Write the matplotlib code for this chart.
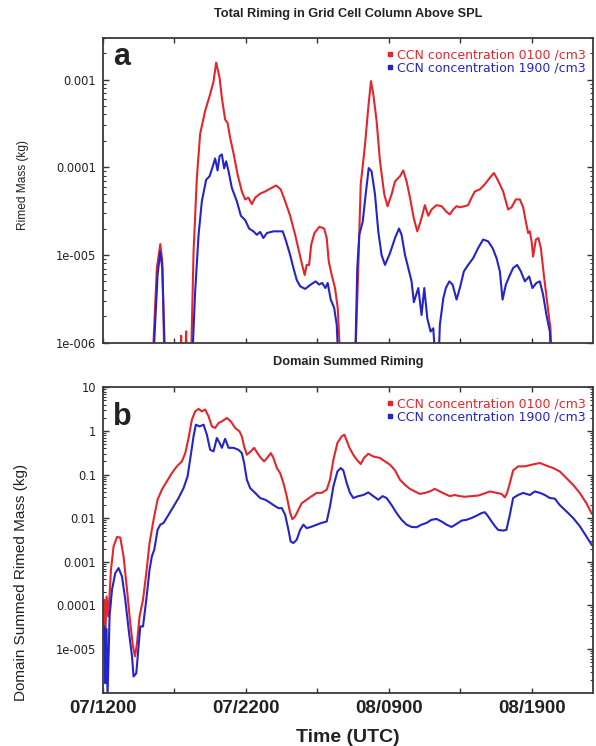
import matplotlib
matplotlib.use("Agg")
from matplotlib import pyplot as plt
from matplotlib.lines import Line2D
from matplotlib.ticker import LogLocator, NullFormatter

# colours of the two runs
RED = '#e3262b'
BLUE = '#2424c8'
FLOOR = 5e-7   # below the axis: curve leaves the panel

# ---- panel a: riming in the grid cell column above SPL (hours after 07/1200, kg)
a_red_t = [3.45, 3.77, 4.01, 4.15, 4.31,
           5.40, 5.47, 5.52, 5.75, 5.82, 5.87,
           6.15, 6.34, 6.57, 6.80, 7.15, 7.50, 7.74, 7.92, 8.16, 8.32,
           8.55, 8.72, 8.90, 9.13, 9.42, 9.72, 9.95, 10.18, 10.42, 10.65,
           11.00, 11.35, 11.70, 12.12, 12.44, 12.75, 13.10, 13.45, 13.75, 13.94,
           14.12, 14.26, 14.43, 14.57, 14.80, 15.15, 15.48, 15.66, 15.80, 16.01,
           16.24, 16.43, 16.64,
           17.64, 17.87, 18.04, 18.34, 18.57, 18.76, 18.92, 19.15, 19.39, 19.69,
           19.92, 20.20, 20.44, 20.79, 21.02, 21.25, 21.49, 21.76, 22.00, 22.23,
           22.53, 22.77, 23.00, 23.35, 23.70, 24.05, 24.28, 24.51, 24.75, 24.98,
           25.33, 25.56, 25.80, 26.03, 26.38, 26.73, 27.08, 27.36, 27.55, 27.78,
           28.01, 28.20, 28.36, 28.60, 28.90, 29.18, 29.41, 29.60, 29.76, 29.88,
           30.00, 30.11, 30.30, 30.48, 30.65, 30.86, 31.09, 31.32, 31.44]
a_red_v = [FLOOR, 7.1e-6, 1.33e-5, 8.5e-6, FLOOR,
           FLOOR, 1.2e-6, FLOOR, FLOOR, 1.35e-6, FLOOR,
           FLOOR, 1.1e-5, 7.6e-5, 2.4e-4, 4.4e-4, 6.8e-4, 9.6e-4, 1.56e-3, 1.05e-3, 6.2e-4,
           3.5e-4, 3.2e-4, 2.17e-4, 1.46e-4, 8.3e-5, 5.3e-5, 4.3e-5, 4.5e-5, 3.8e-5, 4.5e-5,
           5.0e-5, 5.3e-5, 5.7e-5, 6.2e-5, 5.6e-5, 4.1e-5, 2.8e-5, 1.7e-5, 1.05e-5, 7.7e-6,
           5.9e-6, 7.7e-6, 7.7e-6, 1.3e-5, 1.78e-5, 2.1e-5, 2.0e-5, 1.56e-5, 8.5e-6, 5.9e-6,
           4.2e-6, 2.5e-6, FLOOR,
           FLOOR, 7.1e-6, 6.4e-5, 1.8e-4, 4.8e-4, 9.6e-4, 6.8e-4, 3.4e-4, 1.17e-4, 4.9e-5,
           3.6e-5, 4.9e-5, 6.9e-5, 7.9e-5, 9.2e-5, 6.9e-5, 4.5e-5, 2.6e-5, 1.86e-5, 2.4e-5,
           3.7e-5, 2.8e-5, 3.3e-5, 3.7e-5, 3.6e-5, 3.1e-5, 2.9e-5, 3.3e-5, 3.6e-5, 3.5e-5,
           3.6e-5, 3.7e-5, 4.5e-5, 5.3e-5, 5.6e-5, 6.4e-5, 7.6e-5, 8.6e-5, 7.6e-5, 6.4e-5,
           5.3e-5, 4.1e-5, 3.3e-5, 3.5e-5, 4.3e-5, 4.3e-5, 3.5e-5, 2.4e-5, 1.78e-5, 1.86e-5,
           1.43e-5, 9.6e-6, 1.5e-5, 1.56e-5, 1.2e-5, 5.9e-6, 2.9e-6, 1.46e-6, FLOOR]

a_blue_t = [3.49, 3.82, 4.01, 4.15, 4.36,
            6.22, 6.45, 6.69, 6.92, 7.22, 7.46, 7.69, 7.85, 8.02, 8.16,
            8.32, 8.48, 8.62, 8.79, 9.02, 9.37, 9.65, 9.95, 10.23, 10.53,
            10.77, 11.00, 11.23, 11.47, 11.93, 12.58, 12.82, 13.10, 13.33, 13.56,
            13.80, 14.15, 14.54, 14.89, 15.13, 15.34, 15.57, 15.73, 15.94, 16.18,
            16.36, 16.50,
            17.64, 17.80, 17.94, 18.18, 18.41, 18.60, 18.80, 19.04, 19.27, 19.50,
            19.74, 20.09, 20.44, 20.72, 20.90, 21.14, 21.37, 21.60, 21.76, 22.07,
            22.30, 22.49, 22.70, 22.93, 23.12, 23.30, 23.47, 23.58, 23.82, 24.00,
            24.24, 24.47, 24.75, 24.98, 25.26, 25.56, 25.91, 26.26, 26.61, 26.96,
            27.27, 27.55, 27.78, 27.97, 28.20, 28.48, 28.71, 28.99, 29.25, 29.53,
            29.83, 30.06, 30.34, 30.58, 30.81, 31.04, 31.28, 31.39]
a_blue_v = [FLOOR, 5.9e-6, 1.1e-5, 7.1e-6, FLOOR,
            FLOOR, 3.8e-6, 1.7e-5, 4.1e-5, 7.2e-5, 7.9e-5, 1.03e-4, 1.26e-4, 9.2e-5, 1.34e-4,
            1.4e-4, 9.7e-5, 1.17e-4, 9.0e-5, 5.8e-5, 4.1e-5, 2.8e-5, 2.5e-5, 2.0e-5, 1.86e-5,
            1.7e-5, 1.83e-5, 1.56e-5, 1.78e-5, 1.86e-5, 1.86e-5, 1.43e-5, 1.0e-5, 7.1e-6, 5.2e-6,
            4.4e-6, 4.1e-6, 4.6e-6, 5.0e-6, 4.6e-6, 4.8e-6, 4.2e-6, 4.8e-6, 3.1e-6, 2.5e-6,
            1.6e-6, FLOOR,
            FLOOR, 7.1e-6, 1.7e-5, 2.4e-5, 5.3e-5, 9.8e-5, 9.0e-5, 4.9e-5, 1.86e-5, 1.0e-5,
            7.7e-6, 1.05e-5, 1.56e-5, 2.0e-5, 1.7e-5, 1.0e-5, 7.1e-6, 5.0e-6, 2.9e-6, 4.2e-6,
            2.07e-6, 4.2e-6, 1.9e-6, 1.34e-6, 1.46e-6, FLOOR, FLOOR, 1.6e-6, 3.2e-6, 4.2e-6,
            5.0e-6, 4.6e-6, 3.1e-6, 4.2e-6, 6.5e-6, 7.7e-6, 9.2e-6, 1.2e-5, 1.5e-5, 1.43e-5,
            1.2e-5, 9.2e-6, 6.5e-6, 3.1e-6, 4.6e-6, 5.9e-6, 7.1e-6, 7.7e-6, 6.5e-6, 5.0e-6,
            5.7e-6, 4.2e-6, 4.8e-6, 5.0e-6, 3.5e-6, 2.07e-6, 1.34e-6, FLOOR]

# ---- panel b: domain summed riming (kg)
b_red_t = [0.00, 0.09, 0.16, 0.25, 0.37, 0.56, 0.74, 0.98, 1.21, 1.44,
           1.68, 1.91, 2.10, 2.24, 2.38, 2.56, 2.80, 3.03, 3.26, 3.54,
           3.82, 4.12, 4.47, 4.82, 5.17, 5.52, 5.76, 5.99, 6.22, 6.45,
           6.69, 6.92, 7.15, 7.39, 7.62, 7.85, 8.09, 8.32, 8.67, 8.95,
           9.25, 9.55, 9.72, 9.88, 10.07, 10.35, 10.58, 10.81, 11.05, 11.28,
           11.58, 11.75, 11.93, 12.17, 12.40, 12.63, 12.86, 13.10, 13.26, 13.45,
           13.68, 13.91, 14.26, 14.61, 14.96, 15.31, 15.66, 15.89, 16.13, 16.41,
           16.71, 16.90, 17.24, 17.52, 17.76, 18.04, 18.27, 18.57, 18.92, 19.39,
           19.74, 20.09, 20.44, 20.79, 21.14, 21.48, 21.83, 22.18, 22.53, 22.88,
           23.23, 23.58, 23.93, 24.28, 24.63, 24.98, 25.33, 25.80, 26.26, 26.61,
           27.08, 27.55, 27.90, 28.13, 28.29, 28.48, 28.71, 29.06, 29.53, 30.00,
           30.58, 31.04, 31.51, 31.97, 32.44, 32.91, 33.37, 33.84, 34.19, 34.30]
b_red_v = [3.9e-5, 1.35e-4, 1.9e-5, 1.6e-4, 5.6e-5, 6.6e-4, 2.25e-3, 3.7e-3, 3.6e-3, 1.33e-3,
           2.3e-4, 3.9e-5, 1.15e-5, 6.8e-6, 1.37e-5, 5.6e-5, 1.35e-4, 5.5e-4, 2.7e-3, 9.2e-3,
           0.0265, 0.045, 0.07, 0.108, 0.154, 0.2, 0.31, 0.69, 1.8, 2.8,
           3.2, 2.8, 3.1, 2.16, 1.27, 1.17, 1.52, 1.65, 1.98, 1.65,
           1.17, 0.98, 0.75, 0.44, 0.285, 0.34, 0.41, 0.31, 0.24, 0.2,
           0.26, 0.31, 0.24, 0.141, 0.108, 0.064, 0.032, 0.0131, 0.0095, 0.011,
           0.0156, 0.022, 0.0265, 0.032, 0.038, 0.038, 0.045, 0.076, 0.22, 0.53,
           0.75, 0.82, 0.42, 0.285, 0.22, 0.174, 0.24, 0.3, 0.26, 0.24,
           0.2, 0.168, 0.125, 0.076, 0.058, 0.047, 0.041, 0.036, 0.038, 0.041,
           0.047, 0.041, 0.036, 0.032, 0.034, 0.032, 0.031, 0.032, 0.033, 0.036,
           0.041, 0.038, 0.036, 0.030, 0.038, 0.064, 0.125, 0.154, 0.154, 0.168,
           0.184, 0.16, 0.141, 0.118, 0.083, 0.058, 0.038, 0.022, 0.0131, 0.012]

b_blue_t = [0.00, 0.09, 0.16, 0.23, 0.32, 0.46, 0.63, 0.86, 1.09, 1.33,
            1.56, 1.79, 2.03, 2.14, 2.33, 2.49, 2.61, 2.80, 3.03, 3.26,
            3.42, 3.59, 3.82, 4.01, 4.24, 4.59, 4.94, 5.29, 5.64, 5.92,
            6.15, 6.34, 6.50, 6.76, 7.04, 7.27, 7.50, 7.74, 7.97, 8.16,
            8.32, 8.55, 8.79, 9.13, 9.48, 9.72, 9.88, 10.07, 10.30, 10.65,
            11.00, 11.35, 11.58, 11.93, 12.28, 12.52, 12.75, 12.98, 13.14, 13.33,
            13.56, 13.80, 14.03, 14.26, 14.61, 14.96, 15.31, 15.66, 15.89, 16.13,
            16.41, 16.64, 16.82, 17.06, 17.29, 17.52, 17.87, 18.22, 18.57, 18.92,
            19.27, 19.57, 19.85, 20.20, 20.55, 20.90, 21.25, 21.60, 21.95, 22.30,
            22.65, 23.00, 23.35, 23.70, 24.05, 24.40, 24.75, 25.10, 25.45, 25.80,
            26.15, 26.50, 26.73, 26.96, 27.20, 27.43, 27.66, 28.01, 28.24, 28.48,
            28.71, 29.06, 29.41, 29.88, 30.23, 30.58, 30.93, 31.28, 31.63, 31.97,
            32.44, 32.91, 33.37, 33.84, 34.19, 34.30]
b_blue_v = [1.9e-5, 3.3e-5, 1.65e-6, 2.9e-5, 9e-7, 5.6e-5, 2.3e-4, 5.5e-4, 7.2e-4, 4.6e-4,
            1.35e-4, 2.9e-5, 6.8e-6, 2.35e-6, 2.8e-6, 1.15e-5, 3.3e-5, 3.3e-5, 1.35e-4, 6.6e-4,
            1.33e-3, 1.9e-3, 5.4e-3, 7.1e-3, 7.8e-3, 0.012, 0.0186, 0.029, 0.049, 0.091,
            0.285, 0.76, 1.39, 1.27, 1.39, 0.82, 0.37, 0.34, 0.69, 0.53,
            0.41, 0.66, 0.41, 0.41, 0.37, 0.31, 0.184, 0.076, 0.049, 0.038,
            0.029, 0.0265, 0.024, 0.02, 0.017, 0.017, 0.012, 5.4e-3, 2.9e-3, 2.7e-3,
            3.2e-3, 5.4e-3, 7.1e-3, 5.9e-3, 6.4e-3, 7.1e-3, 7.8e-3, 8.4e-3, 0.0186, 0.054,
            0.118, 0.141, 0.125, 0.064, 0.038, 0.029, 0.032, 0.034, 0.039, 0.032,
            0.0265, 0.032, 0.029, 0.02, 0.0131, 9.2e-3, 7.1e-3, 6.3e-3, 6.2e-3, 7.1e-3,
            7.8e-3, 9.2e-3, 9.6e-3, 8.4e-3, 7.1e-3, 6.3e-3, 7.4e-3, 8.8e-3, 9.2e-3, 0.0101,
            0.0114, 0.0131, 0.0137, 0.011, 8.4e-3, 6.6e-3, 5.4e-3, 5.2e-3, 5.4e-3, 0.012,
            0.029, 0.034, 0.038, 0.034, 0.041, 0.038, 0.034, 0.029, 0.028, 0.02,
            0.0143, 0.0101, 6.6e-3, 3.8e-3, 2.5e-3, 2.3e-3]

x_ticks = [0, 5, 10, 15, 20, 25, 30]
x_labels = ['07/1200', '', '07/2200', '', '08/0900', '', '08/1900']
a_yticks = [1e-6, 1e-5, 1e-4, 1e-3]
a_ylabels = ['1e-006', '1e-005', '0.0001', '0.001']
b_yticks = [1e-5, 1e-4, 1e-3, 1e-2, 1e-1, 1, 10]
b_ylabels = ['1e-005', '0.0001', '0.001', '0.01', '0.1', '1', '10']
labels = ['CCN concentration 0100 /cm3', 'CCN concentration 1900 /cm3']

W, H = 596, 746
fig = plt.figure(figsize=(W / 100, H / 100), dpi=100)

def px_box(left, top, right, bottom):
    return [left / W, 1 - bottom / H, (right - left) / W, (bottom - top) / H]

ax_a = fig.add_axes(px_box(103, 37.7, 593, 342.7))
ax_b = fig.add_axes(px_box(103, 387.3, 593, 692.7))

ax_a.plot(a_red_t, a_red_v, color=RED, lw=1.5)
ax_a.plot(a_blue_t, a_blue_v, color=BLUE, lw=1.5)
ax_b.plot(b_red_t, b_red_v, color=RED, lw=1.5)
ax_b.plot(b_blue_t, b_blue_v, color=BLUE, lw=1.5)

for ax in (ax_a, ax_b):
    ax.set_yscale('log')
    ax.set_xlim(0, 34.3)
    ax.set_xticks(x_ticks)
    ax.yaxis.set_minor_locator(LogLocator(base=10, subs=range(2, 10), numticks=20))
    ax.yaxis.set_minor_formatter(NullFormatter())
    ax.tick_params(which='both', direction='in', top=True, right=True,
                   color='#333333')
    ax.tick_params(axis='y', which='major', length=4, width=1, pad=5)
    ax.tick_params(axis='y', which='minor', length=2.2, width=0.8)
    ax.tick_params(axis='x', which='major', length=3.5, width=1)
    for s in ax.spines.values():
        s.set_color('#3a3a3a')
        s.set_linewidth(1.3)

ax_a.set_ylim(1e-6, 3e-3)
ax_a.set_yticks(a_yticks)
ax_a.set_yticklabels(a_ylabels, fontsize=8.3, color='#222222')
ax_a.set_xticklabels([])

ax_b.set_ylim(1e-6, 10)
ax_b.set_yticks(b_yticks)
ax_b.set_yticklabels(b_ylabels, fontsize=8.3, color='#222222')
ax_b.set_xticklabels(x_labels, fontsize=13.5, fontweight='bold',
                     family='Liberation Sans', color='#222222')
ax_b.tick_params(axis='x', pad=5)

# legend: small coloured squares with coloured text, top right
handles = [Line2D([], [], ls='none', marker='s', markersize=3.2, color=c) for c in (RED, BLUE)]
for ax in (ax_a, ax_b):
    ax.legend(handles, labels, loc='upper right', bbox_to_anchor=(0.986, 0.966),
              frameon=False, fontsize=9, labelcolor=[RED, BLUE], borderpad=0,
              borderaxespad=0, handlelength=0.5, handletextpad=0.35,
              labelspacing=0.0)

bold = dict(family='Liberation Sans', fontweight='bold', color='#222222')
fig.text(348 / W, 1 - 14 / H, 'Total Riming in Grid Cell Column Above SPL',
         ha='center', va='center', fontsize=9.2, **bold)
fig.text(348 / W, 1 - 362 / H, 'Domain Summed Riming',
         ha='center', va='center', fontsize=9.2, **bold)
fig.text(348 / W, 1 - 737 / H, 'Time (UTC)', ha='center', va='center',
         fontsize=14, **bold)
fig.text(113 / W, 1 - 65 / H, 'a', ha='left', va='baseline', fontsize=22, **bold)
fig.text(113 / W, 1 - 425 / H, 'b', ha='left', va='baseline', fontsize=22, **bold)
fig.text(22.7 / W, 1 - 185 / H, 'Rimed Mass (kg)', rotation=90, ha='center',
         va='center', fontsize=8.6, family='Liberation Sans', color='#222222')
fig.text(20.7 / W, 1 - 582 / H, 'Domain Summed Rimed Mass (kg)', rotation=90,
         ha='center', va='center', fontsize=11, family='Liberation Sans',
         color='#222222')

fig.savefig('out.png', dpi=100)
